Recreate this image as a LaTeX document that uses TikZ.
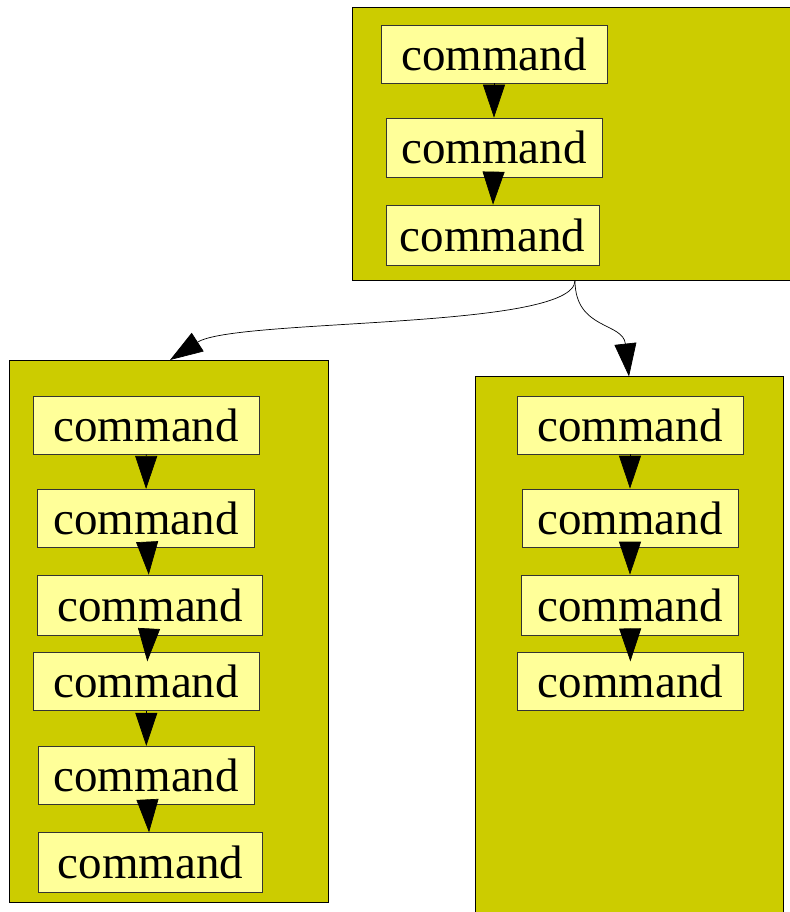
\documentclass[tikz,border=0pt]{standalone}
\usepackage{fontspec}
\setmainfont{Liberation Serif}
\usetikzlibrary{arrows.meta}
\definecolor{clusterfill}{RGB}{204,204,0}
\definecolor{cmdfill}{RGB}{255,255,153}

\begin{document}
\begin{tikzpicture}[x=1pt,y=-1pt,>={Triangle[length=33pt,width=22pt]},
  cluster/.style={draw=black,fill=clusterfill,line width=0.8pt},
  cmd/.style={draw=black!80,fill=cmdfill,line width=0.7pt,inner sep=0pt,
    minimum height=58pt,font=\fontsize{47}{56}\selectfont}]
  \useasboundingbox (0,0) rectangle (789,912);
  % the three blocks
  \draw[cluster] (352.5,7.5) rectangle (795,280.5);
  \draw[cluster] (9.5,360) rectangle (328.5,902.5);
  \draw[cluster] (475.5,376.5) rectangle (783.5,925);
  % top block
  \node[cmd,minimum width=226pt] (t1) at (494,54) {command};
  \node[cmd,minimum width=216pt,minimum height=59pt] (t2) at (494,147.5) {command};
  \node[cmd,minimum width=213pt,minimum height=60pt] (t3) at (492.5,235) {command};
  % left block
  \node[cmd,minimum width=226pt] (l1) at (146.3,425) {command};
  \node[cmd,minimum width=216.6pt] (l2) at (146,518.3) {command};
  \node[cmd,minimum width=225pt,minimum height=60pt] (l3) at (150.2,605) {command};
  \node[cmd,minimum width=226pt] (l4) at (146.3,681.8) {command};
  \node[cmd,minimum width=216pt] (l5) at (146.3,775.2) {command};
  \node[cmd,minimum width=224.4pt,minimum height=59.6pt] (l6) at (150.5,862.5) {command};
  % right block
  \node[cmd,minimum width=226pt] (r1) at (630,425) {command};
  \node[cmd,minimum width=216pt] (r2) at (630,518) {command};
  \node[cmd,minimum width=216.6pt,minimum height=60pt] (r3) at (630,605) {command};
  \node[cmd,minimum width=225.6pt] (r4) at (630.5,681.8) {command};
  % chains inside the blocks
  \foreach \a/\b in {t1/t2,t2/t3,l1/l2,l2/l3,l4/l5,l5/l6,r1/r2,r2/r3}
    \draw[->,line width=0.7pt] (\a) -- (\b);
  % these two gaps are short, the heads run into the lower box
  \draw[->,line width=0.7pt,shorten >=-9pt] (l3) -- (l4);
  \draw[->,line width=0.7pt,shorten >=-9pt] (r3) -- (r4);
  % block to block
  \coordinate (fork) at (575,280.5);
  \coordinate (lhead) at (170,360);
  \coordinate (rhead) at (629,376.5);
  \draw[->,line width=0.7pt] (fork) .. controls (575,330) and (235,318) .. (lhead);
  \draw[->,line width=0.7pt] (fork) .. controls (575,330) and (623,322) .. (rhead);
\end{tikzpicture}
\end{document}
